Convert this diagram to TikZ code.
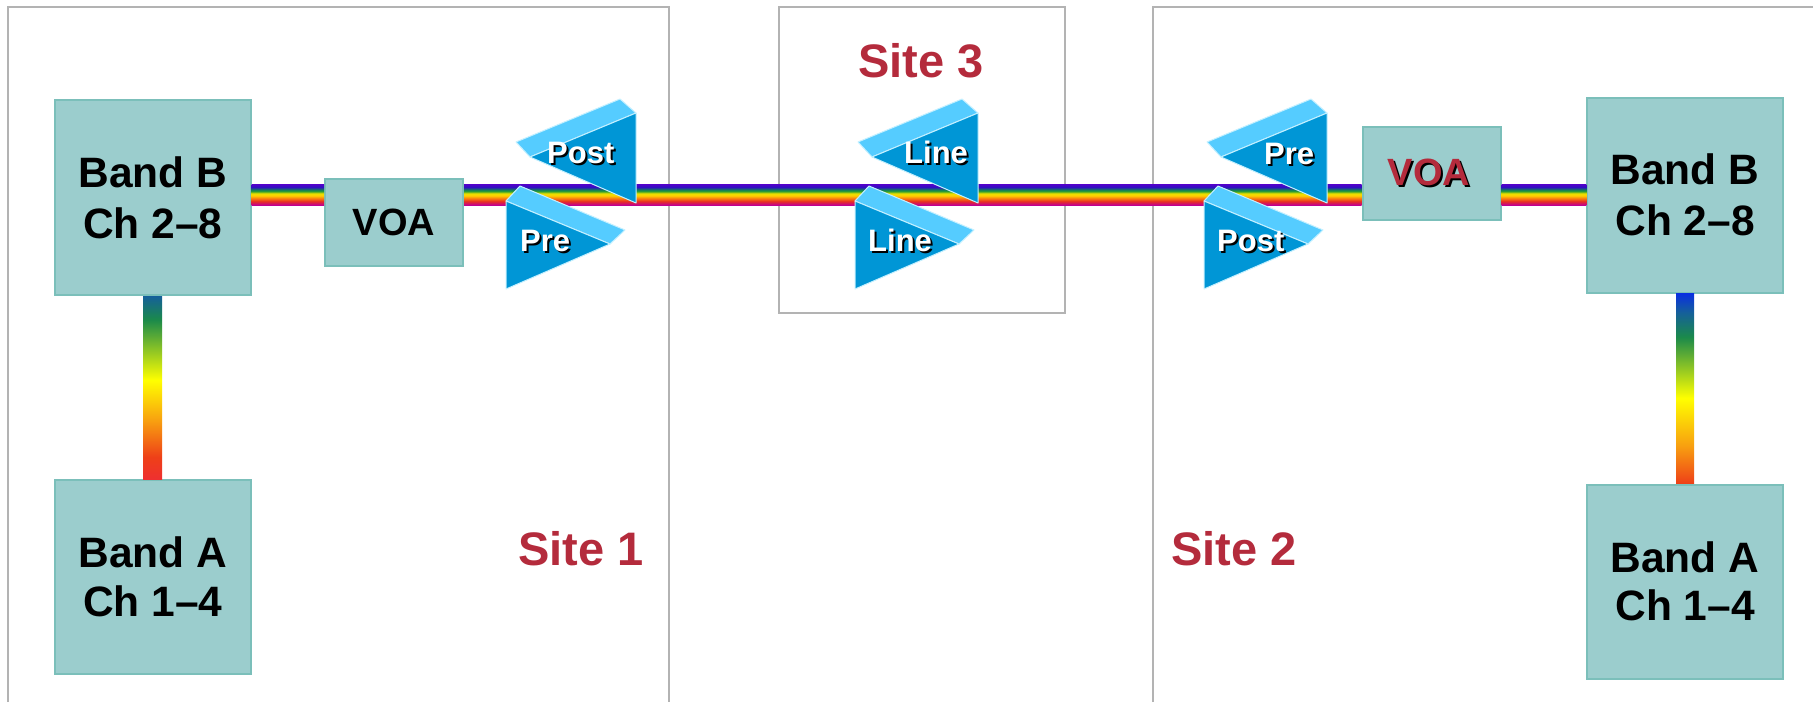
\documentclass[tikz,border=0pt]{standalone}
\usepackage{fontspec}
\setmainfont{Liberation Sans}
\definecolor{boxfill}{HTML}{9BCDCD}
\definecolor{boxedge}{HTML}{7BBFBA}
\definecolor{framec}{HTML}{B3B3B3}
\definecolor{sitered}{HTML}{B42B3C}
\definecolor{ampfront}{HTML}{0096D6}
\definecolor{ampfacet}{HTML}{55CCFF}
\definecolor{ampedge}{HTML}{C4F0FF}
\definecolor{ra}{HTML}{5500CC}\definecolor{rb}{HTML}{3010C0}\definecolor{rc}{HTML}{107A60}
\definecolor{rd}{HTML}{30A030}\definecolor{re}{HTML}{E8E000}\definecolor{rf}{HTML}{FFD000}
\definecolor{rg}{HTML}{F88010}\definecolor{rh}{HTML}{E83020}\definecolor{ri}{HTML}{C00090}
\definecolor{va}{HTML}{15609A}\definecolor{vb}{HTML}{1B8A4A}\definecolor{vc}{HTML}{FFFF00}
\definecolor{vd}{HTML}{F8A010}\definecolor{ve}{HTML}{EE4018}\definecolor{vf}{HTML}{EE3030}
\definecolor{wa}{HTML}{0A30E0}
\pgfdeclareverticalshading{railshade}{100bp}{color(0bp)=(ri); color(25bp)=(ri); color(34bp)=(rh); color(41bp)=(rg); color(47.5bp)=(rf); color(52.5bp)=(re); color(57.5bp)=(rd); color(61.5bp)=(rc); color(67.5bp)=(rb); color(75bp)=(ra); color(100bp)=(ra)}
\pgfdeclareverticalshading{riserleft}{100bp}{color(0bp)=(vf); color(25bp)=(vf); color(31bp)=(ve); color(41bp)=(vd); color(52bp)=(vc); color(68.5bp)=(vb); color(75bp)=(va); color(100bp)=(va)}
\pgfdeclareverticalshading{riserright}{100bp}{color(0bp)=(ve); color(25bp)=(ve); color(35bp)=(vd); color(47.5bp)=(vc); color(63.5bp)=(vb); color(70bp)=(va); color(75bp)=(wa); color(100bp)=(wa)}
\newcommand{\shtxt}[2][white]{\makebox[0pt][l]{\raisebox{-2pt}{\kern2pt\textcolor{black}{#2}}}\textcolor{#1}{#2}}
\tikzset{
  bandbox/.style={draw=boxedge,fill=boxfill,line width=2pt,minimum width=195.5pt,minimum height=195pt,inner sep=0pt,align=center,font=\fontsize{42.5}{51}\selectfont\bfseries},
  bandlow/.style={bandbox,minimum height=194pt,font=\fontsize{42.5}{48.5}\selectfont\bfseries},
  voabox/.style={draw=boxedge,fill=boxfill,line width=2pt,minimum width=138pt,inner sep=0pt,font=\fontsize{38}{44}\selectfont\bfseries},
  sitelabel/.style={anchor=base west,inner sep=0pt,text=sitered,font=\fontsize{47}{52}\selectfont\bfseries},
  amplabel/.style={anchor=base west,inner sep=0pt,font=\fontsize{31}{36}\selectfont\bfseries},
  frameline/.style={draw=framec,line width=2pt},
  ampface/.style={draw=ampedge,line width=1pt,line join=round},
  upamp/.pic={
    \filldraw[ampface,fill=ampfacet] (-120,29) -- (-16,-14) -- (0,0) -- (-106,44) -- cycle;
    \filldraw[ampface,fill=ampfront] (-106,44) -- (0,0) -- (0,90) -- cycle;
  },
  downamp/.pic={
    \filldraw[ampface,fill=ampfacet] (0,0) -- (14,-15) -- (119,29) -- (104,43) -- cycle;
    \filldraw[ampface,fill=ampfront] (0,0) -- (0,88) -- (104,43) -- cycle;
  }
}
\begin{document}
\begin{tikzpicture}[x=1pt,y=-1pt]
\useasboundingbox (0,0) rectangle (1813,702);
% site frames
\draw[frameline] (8,702) -- (8,7) -- (669,7) -- (669,702);
\draw[frameline] (779,7) rectangle (1065,313);
\draw[frameline] (1153,702) -- (1153,7) -- (1813,7);
% boxes
\node[bandbox] (bandBL) at (152.75,197.5) {Band B\\Ch 2–8};
\node[bandlow] (bandAL) at (152.75,577) {Band A\\Ch 1–4};
\node[bandbox] (bandBR) at (1685,195) {Band B\\Ch 2–8};
\node[bandlow] (bandAR) at (1685,581.5) {Band A\\Ch 1–4};
\node[voabox,minimum height=87pt] (voaL) at (394,222.5) {VOA};
\node[voabox,minimum height=93pt] (voaR) at (1431.5,173.5) {\hspace*{-5pt}\shtxt[sitered]{VOA}};
% rail and riser connectors
\coordinate (railT) at (0,184);
\coordinate (railB) at (0,205);
\coordinate (riseL) at (143,0);
\coordinate (riseLr) at (162,0);
\coordinate (riseR) at (1676,0);
\coordinate (riseRr) at (1694,0);
\shade[shading=railshade] (bandBL.east |- railT) rectangle (voaL.west |- railB);
\shade[shading=railshade] (voaL.east |- railT) rectangle (voaR.west |- railB);
\shade[shading=railshade] (voaR.east |- railT) rectangle (bandBR.west |- railB);
\shade[shading=riserleft] (riseL |- bandBL.south) rectangle (riseLr |- bandAL.north);
\shade[shading=riserright] (riseR |- bandBR.south) rectangle (riseRr |- bandAR.north);
% amplifiers
\pic at (636,113) {upamp};
\pic at (506,201) {downamp};
\pic at (978,113) {upamp};
\pic at (855,201) {downamp};
\pic at (1327,113) {upamp};
\pic at (1204,201) {downamp};
\node[amplabel] (l1) at (547,163) {\shtxt{Post}};
\node[amplabel] (l2) at (520,251) {\shtxt{Pre}};
\node[amplabel] (l3) at (904,163) {\shtxt{Line}};
\node[amplabel] (l4) at (868,251) {\shtxt{Line}};
\node[amplabel] (l5) at (1264,164) {\shtxt{Pre}};
\node[amplabel] (l6) at (1217,251) {\shtxt{Post}};
% site labels
\node[sitelabel] (s1) at (518,565) {Site 1};
\node[sitelabel] (s2) at (1171,565) {Site 2};
\node[sitelabel] (s3) at (858,77) {Site 3};
\end{tikzpicture}
\end{document}
